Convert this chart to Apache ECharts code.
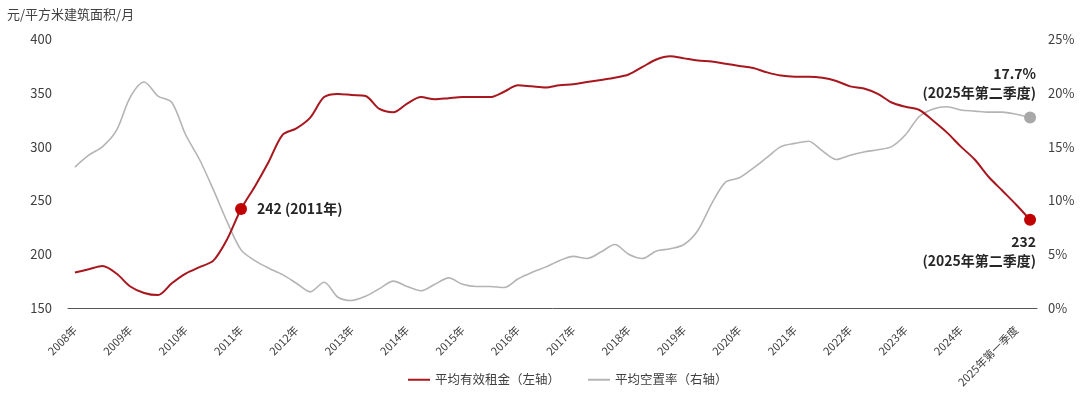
<!doctype html>
<html>
    <head>
        <meta charset="utf-8">
        <title>平均有效租金与平均空置率</title>
        <style>
            html, body { margin: 0; padding: 0; background: #fff; }
            #main { width: 1080px; height: 397px; }
        </style>
    </head>
    <body>
        <div id="main"></div>
        <script src="https://cdn.jsdelivr.net/npm/echarts@6/dist/echarts.min.js"></script>
        <script>
            // quarters from 2008 Q1 to 2025 Q2
            var quarterNames = ['第一季度', '第二季度', '第三季度', '第四季度'];
            var firstYear = 2008;
            var lastYear = 2025;
            var lastQuarter = 2;

            // 平均有效租金 (元/平方米建筑面积/月), left axis
            var rent = [
                183, 186, 189, 182, 170, 164, 162, 173, 182, 188,
                194, 214, 242, 263, 286, 311, 317, 327, 346, 349,
                348, 347, 335, 332, 340, 346, 344, 345, 346, 346,
                346, 351, 357, 356, 355, 357, 358, 360, 362, 364,
                367, 374, 381, 384, 382, 380, 379, 377, 375, 373,
                369, 366, 365, 365, 364, 361, 356, 354, 349, 341,
                337, 334, 324, 313, 300, 288, 272, 259, 246, 232
            ];

            // 平均空置率 (%), right axis
            var vacancy = [
                13.1, 14.2, 15.0, 16.5, 19.6, 21.0, 19.7, 19.1, 16.1, 13.8,
                11.0, 8.0, 5.4, 4.4, 3.7, 3.1, 2.3, 1.5, 2.4, 1.0,
                0.7, 1.1, 1.8, 2.5, 2.0, 1.6, 2.2, 2.8, 2.2, 2.0,
                2.0, 1.9, 2.7, 3.3, 3.8, 4.4, 4.8, 4.6, 5.2, 5.9,
                5.0, 4.6, 5.3, 5.5, 5.9, 7.2, 9.7, 11.7, 12.1, 13.0,
                14.0, 15.0, 15.3, 15.5, 14.6, 13.8, 14.2, 14.5, 14.7, 15.0,
                16.1, 17.8, 18.5, 18.7, 18.4, 18.3, 18.2, 18.2, 18.0, 17.7
            ];

            var leftTicks = { min: 150, max: 400, interval: 50 };
            var rightTicks = { min: 0, max: 25, interval: 5 };

            var categories = [];
            for (var y = firstYear; y <= lastYear; y++) {
                for (var q = 0; q < 4; q++) {
                    if (y === lastYear && q >= lastQuarter) break;
                    categories.push(y + '年' + quarterNames[q]);
                }
            }
            var lastIdx = categories.length - 1;
            var idx2011 = (2011 - firstYear) * 4;

            var font = '"Noto Sans CJK SC", "Noto Sans", sans-serif';
            var red = '#a8161e';
            var redDot = '#c00000';
            var grey = '#b4b4b4';
            var greyDot = '#a8a8a8';

            var chart = echarts.init(document.getElementById('main'));

            chart.setOption({
                animation: false,
                textStyle: { fontFamily: font },
                title: {
                    text: '元/平方米建筑面积/月',
                    left: 2,
                    top: 3,
                    textStyle: { fontSize: 13, fontWeight: 'normal', color: '#404040', fontFamily: font }
                },
                legend: {
                    data: ['平均有效租金（左轴）', '平均空置率（右轴）'],
                    bottom: 6,
                    left: 403,
                    icon: 'rect',
                    itemWidth: 22,
                    itemHeight: 2,
                    itemGap: 28,
                    textStyle: { fontSize: 12.5, color: '#404040', fontFamily: font }
                },
                grid: {
                    left: 68,
                    right: 43,
                    top: 39,
                    bottom: 89
                },
                xAxis: {
                    type: 'category',
                    data: categories,
                    boundaryGap: true,
                    axisLine: { lineStyle: { color: '#595959', width: 1 } },
                    axisTick: { show: false },
                    axisLabel: {
                        rotate: 45,
                        fontSize: 11,
                        color: '#404040',
                        margin: 20,
                        interval: function (index) { return index % 4 === 0; },
                        formatter: function (value, index) {
                            return index === lastIdx - 1 ? value : value.slice(0, 5);
                        }
                    }
                },
                yAxis: [
                    {
                        type: 'value',
                        min: leftTicks.min,
                        max: leftTicks.max,
                        interval: leftTicks.interval,
                        axisLine: { show: false },
                        axisTick: { show: false },
                        splitLine: { show: false },
                        axisLabel: { fontSize: 13, color: '#404040', margin: 16 }
                    },
                    {
                        type: 'value',
                        min: rightTicks.min,
                        max: rightTicks.max,
                        interval: rightTicks.interval,
                        axisLine: { show: false },
                        axisTick: { show: false },
                        splitLine: { show: false },
                        axisLabel: { fontSize: 13, color: '#404040', margin: 11, formatter: '{value}%' }
                    }
                ],
                series: [
                    {
                        name: '平均有效租金（左轴）',
                        type: 'line',
                        yAxisIndex: 0,
                        data: rent,
                        smooth: 0.3,
                        symbol: 'none',
                        lineStyle: { color: red, width: 2 },
                        itemStyle: { color: red },
                        z: 3
                    },
                    {
                        name: '平均空置率（右轴）',
                        type: 'line',
                        yAxisIndex: 1,
                        data: vacancy,
                        smooth: 0.3,
                        symbol: 'none',
                        lineStyle: { color: grey, width: 1.6 },
                        itemStyle: { color: grey },
                        z: 2
                    },
                    {
                        type: 'scatter',
                        yAxisIndex: 0,
                        symbolSize: 12,
                        itemStyle: { color: redDot, opacity: 1 },
                        z: 5,
                        data: [
                            {
                                value: [idx2011, rent[idx2011]],
                                label: {
                                    show: true,
                                    position: 'right',
                                    distance: 10,
                                    formatter: rent[idx2011] + ' (2011年)',
                                    fontSize: 14,
                                    fontWeight: 'bold',
                                    color: '#262626'
                                }
                            },
                            {
                                value: [lastIdx, rent[lastIdx]],
                                label: {
                                    show: true,
                                    position: [12, 18],
                                    align: 'right',
                                    verticalAlign: 'top',
                                    lineHeight: 19,
                                    formatter: rent[lastIdx] + '\n(' + categories[lastIdx] + ')',
                                    fontSize: 14,
                                    fontWeight: 'bold',
                                    color: '#262626'
                                }
                            }
                        ]
                    },
                    {
                        type: 'scatter',
                        yAxisIndex: 1,
                        symbolSize: 12,
                        itemStyle: { color: greyDot, opacity: 1 },
                        z: 5,
                        data: [
                            {
                                value: [lastIdx, vacancy[lastIdx]],
                                label: {
                                    show: true,
                                    position: [12, -47],
                                    align: 'right',
                                    verticalAlign: 'top',
                                    lineHeight: 19,
                                    formatter: vacancy[lastIdx] + '%\n(' + categories[lastIdx] + ')',
                                    fontSize: 14,
                                    fontWeight: 'bold',
                                    color: '#262626'
                                }
                            }
                        ]
                    }
                ]
            });

            window.addEventListener('resize', function () {
                chart.resize();
            });
        </script>
    </body>
</html>
